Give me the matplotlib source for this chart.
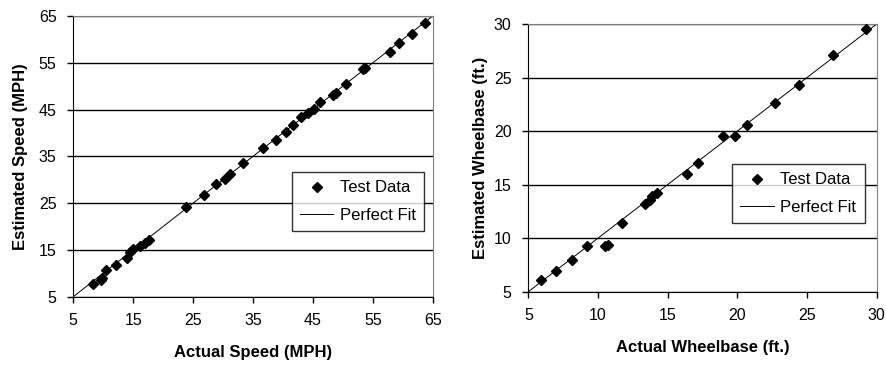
import matplotlib.pyplot as plt
import numpy as np

plt.rcParams['font.family'] = ['Liberation Sans', 'DejaVu Sans']

# speed data (MPH)
speed_actual = [8.3, 9.6, 9.8, 10.4, 12.2, 13.9, 14.5, 14.9, 16.2, 17.0, 17.7,
                23.9, 26.8, 28.8, 30.4, 31.2, 33.4, 36.6, 38.9, 40.5, 41.6,
                43.0, 44.2, 45.2, 46.2, 48.4, 48.9, 50.5, 53.4, 53.7, 57.8,
                59.4, 61.5, 63.7]
speed_est = [7.7, 8.5, 8.9, 10.7, 11.8, 13.3, 14.6, 15.1, 15.8, 16.4, 17.1,
             24.2, 26.7, 29.0, 30.2, 31.2, 33.5, 36.8, 38.5, 40.2, 41.7,
             43.5, 44.2, 45.1, 46.7, 48.1, 48.6, 50.5, 53.6, 53.9, 57.2,
             59.3, 61.1, 63.6]

# wheelbase data (ft.)
wb_actual = [5.9, 7.0, 8.1, 9.2, 10.5, 10.7, 11.7, 13.4, 13.7, 13.9, 14.2,
             16.4, 17.2, 19.0, 19.8, 20.7, 22.7, 24.4, 26.9, 29.2]
wb_est = [6.1, 6.9, 8.0, 9.25, 9.25, 9.4, 11.4, 13.2, 13.55, 13.9, 14.2,
          16.0, 17.0, 19.5, 19.5, 20.6, 22.6, 24.3, 27.1, 29.5]

speed_ticks = [5, 15, 25, 35, 45, 55, 65]
wb_ticks = [5, 10, 15, 20, 25, 30]


def draw_panel(ax, xs, ys, ticks, xlabel, ylabel, legend_anchor, ypad):
    lo, hi = ticks[0], ticks[-1]
    ax.set_xlim(lo, hi)
    ax.set_ylim(lo, hi)
    ax.set_xticks(ticks)
    ax.set_yticks(ticks)
    ax.yaxis.grid(True, color='black', linewidth=1.0)
    ax.set_axisbelow(True)
    ax.plot(xs, ys, 'D', color='black', markersize=5, label='Test Data', zorder=3)
    ax.plot([lo, hi], [lo, hi], color='black', linewidth=0.7, label='Perfect Fit', zorder=2)
    for s in ['top', 'right']:
        ax.spines[s].set_color('#808080')
    for s in ['left', 'bottom']:
        ax.spines[s].set_color('black')
    ax.tick_params(direction='out', length=4, width=1, labelsize=11.5, pad=8)
    ax.set_xlabel(xlabel, fontsize=12, fontweight='bold', labelpad=12)
    ax.set_ylabel(ylabel, fontsize=12, fontweight='bold', labelpad=ypad)
    leg = ax.legend(loc='upper left', bbox_to_anchor=legend_anchor, frameon=True,
                    fancybox=False, fontsize=12, handlelength=2.0, borderaxespad=0,
                    borderpad=0.5, labelspacing=0.75, handletextpad=0.4)
    leg.get_frame().set_edgecolor('black')
    leg.get_frame().set_linewidth(1.0)


fig = plt.figure(figsize=(8.86, 3.67), dpi=100)
ax1 = fig.add_axes([0.0827, 0.1916, 0.4057, 0.7648])
ax2 = fig.add_axes([0.5963, 0.2052, 0.3932, 0.7294])

draw_panel(ax1, speed_actual, speed_est, speed_ticks,
           'Actual Speed (MPH)', 'Estimated Speed (MPH)', (0.608, 0.444), 8)
draw_panel(ax2, wb_actual, wb_est, wb_ticks,
           'Actual Wheelbase (ft.)', 'Estimated Wheelbase (ft.)', (0.585, 0.477), 4)

fig.savefig('out.png', dpi=100)
